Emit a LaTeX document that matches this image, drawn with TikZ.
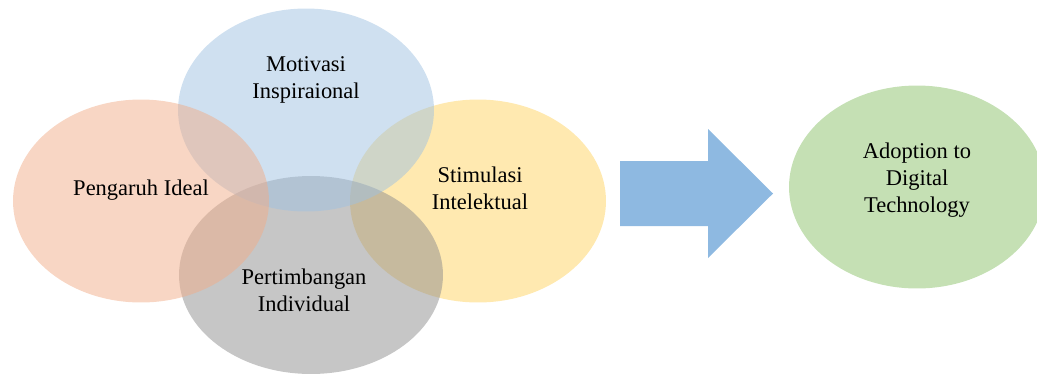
\documentclass[tikz,border=0pt]{standalone}
\usepackage{fontspec}
\setmainfont{Liberation Serif}
\usetikzlibrary{shapes.geometric}

\definecolor{motivblue}{HTML}{9FC1E1}
\definecolor{idealorange}{HTML}{F1AD89}
\definecolor{stimyellow}{HTML}{FFD361}
\definecolor{indivgray}{HTML}{8D8D8D}
\definecolor{adoptgreen}{HTML}{C5E0B4}
\definecolor{arrowblue}{HTML}{8EB9E1}

\begin{document}
\begin{tikzpicture}[x=0.02cm,y=-0.02cm,
    circ/.style={ellipse, minimum width=5.12cm, minimum height=4.06cm, fill opacity=0.5, inner sep=0},
    txt/.style={align=center, font=\fontsize{12.8}{15.4}\selectfont}]
        \clip (0,0) rectangle (1037,373);
        \node (stim) [circ, fill=stimyellow] at (478,201) {};
        \node (indiv) [circ, fill=indivgray, minimum width=5.28cm, minimum height=3.96cm] at (311,275) {};
        \node (motiv) [circ, fill=motivblue] at (306,110) {};
        \node (ideal) [circ, fill=idealorange] at (141,201) {};
        \node (adopt) [circ, fill=adoptgreen, fill opacity=1] at (917,187) {};

        \fill[arrowblue] (620,161) -- (708,161) -- (708,129) -- (773,193.5)
            -- (708,258) -- (708,226) -- (620,226) -- cycle;

        \node (motivtxt) [txt] at (306,80) {Motivasi\\Inspiraional};
        \node (idealtxt) [txt] at (141,190) {Pengaruh Ideal};
        \node (stimtxt) [txt] at (480,188) {Stimulasi\\Intelektual};
        \node (indivtxt) [txt] at (304,290) {Pertimbangan\\Individual};
        \node (adopttxt) [txt] at (917,180) {Adoption to\\Digital\\Technology};
    \end{tikzpicture}
\end{document}
